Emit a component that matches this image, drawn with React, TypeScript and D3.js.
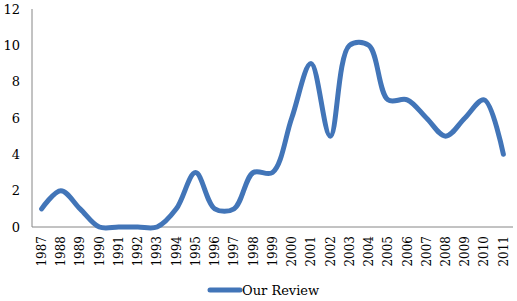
import React from "react";
import * as d3 from "d3";

const years = ["1987","1988","1989","1990","1991","1992","1993","1994","1995","1996","1997","1998","1999","2000","2001","2002","2003","2004","2005","2006","2007","2008","2009","2010","2011"];
const values = [1,2,1,0,0,0,0,1,3,1,1,3,3,6,9,5,10,10,7,7,6,5,6,7,4];
const yTicks = [0,2,4,6,8,10,12];
const seriesName = "Our Review";

const W = 517, H = 301;
const left = 32, right = 513, top = 9, bottom = 227;
const color = "#4275b8";
const font = "'DejaVu Serif', 'Liberation Serif', serif";

export default function App() {
  const x = d3.scaleBand<string>().domain(years).range([left, right]);
  const y = d3.scaleLinear().domain([0, 12]).range([bottom, top]);
  const line = d3.line<number>()
    .x((_, i) => (x(years[i]) as number) + x.bandwidth() / 2)
    .y((d) => y(d))
    .curve(d3.curveCatmullRom.alpha(0.5));
  return (
    <svg width={W} height={H} style={{ position: "absolute", left: 0, top: 0, background: "#fff" }}>
      <line x1={left} x2={left} y1={top} y2={bottom} stroke="#868686" strokeWidth={1} />
      <line x1={left} x2={right} y1={bottom} y2={bottom} stroke="#868686" strokeWidth={1} />
      {yTicks.map((t) => (
        <text key={t} x={20} y={y(t)} dy="0.36em" textAnchor="end" fontFamily={font} fontSize={13} fill="#000">{t}</text>
      ))}
      {years.map((yr) => {
        const cx = (x(yr) as number) + x.bandwidth() / 2;
        return (
          <text key={yr} transform={`translate(${cx},${bottom + 9}) rotate(-90)`} textAnchor="end" dy="0.36em" fontFamily={font} fontSize={12} fill="#000">{yr}</text>
        );
      })}
      <path d={line(values) || ""} fill="none" stroke={color} strokeWidth={5} strokeLinejoin="round" strokeLinecap="round" />
      <line x1={210} x2={240} y1={290} y2={290} stroke={color} strokeWidth={5} strokeLinecap="round" />
      <text x={242} y={290} dy="0.36em" fontFamily={font} fontSize={13} fill="#000">{seriesName}</text>
    </svg>
  );
}
